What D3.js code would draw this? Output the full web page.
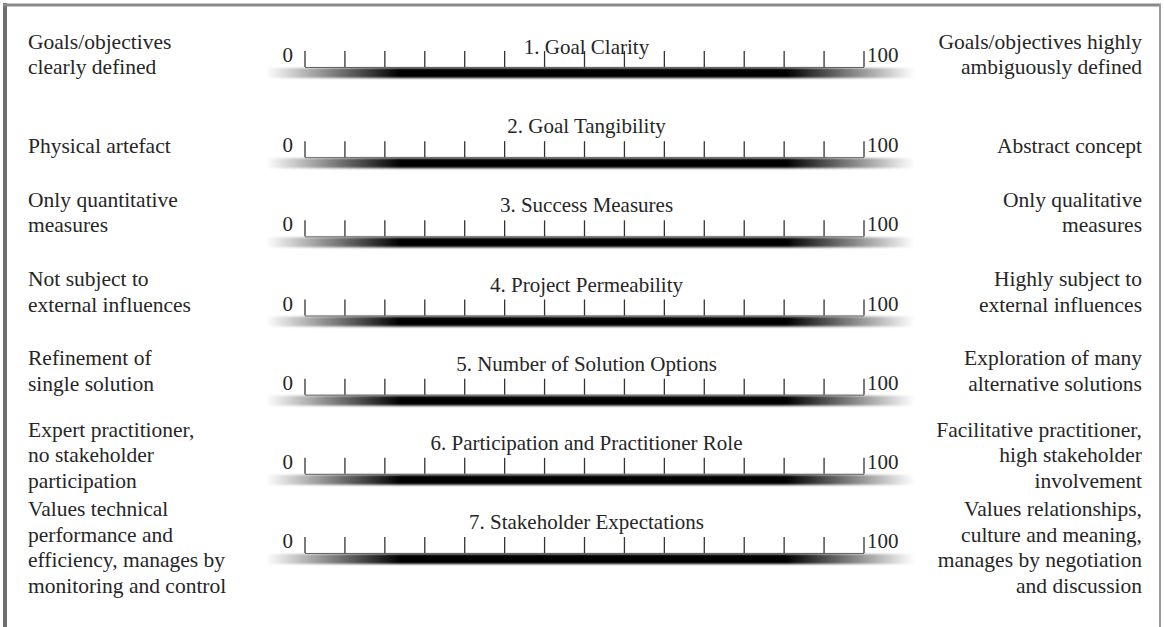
<!DOCTYPE html>
<html>
<head>
<meta charset="utf-8">
<script src="https://cdn.jsdelivr.net/npm/d3@7"></script>
<style>
  body { margin: 0; background: #fff; }
  svg { display: block; }
  svg text { font-family: 'Liberation Serif', 'Times New Roman', 'DejaVu Serif', serif; }
</style>
</head>
<body>
<svg id="chart"></svg>
<script>
const dimensions = [
  '1. Goal Clarity',
  '2. Goal Tangibility',
  '3. Success Measures',
  '4. Project Permeability',
  '5. Number of Solution Options',
  '6. Participation and Practitioner Role',
  '7. Stakeholder Expectations'
];
const leftLabels = [
  ['Goals/objectives', 'clearly defined'],
  ['Physical artefact'],
  ['Only quantitative', 'measures'],
  ['Not subject to', 'external influences'],
  ['Refinement of', 'single solution'],
  ['Expert practitioner,', 'no stakeholder', 'participation'],
  ['Values technical', 'performance and', 'efficiency, manages by', 'monitoring and control']
];
const rightLabels = [
  ['Goals/objectives highly', 'ambiguously defined'],
  ['Abstract concept'],
  ['Only qualitative', 'measures'],
  ['Highly subject to', 'external influences'],
  ['Exploration of many', 'alternative solutions'],
  ['Facilitative practitioner,', 'high stakeholder', 'involvement'],
  ['Values relationships,', 'culture and meaning,', 'manages by negotiation', 'and discussion']
];
// solid part of each bar and where its fade ends (scale units 0-100)
const coreStart = [17, 17, 17, 17, 17, 17, 17];
const coreEnd = [86, 86, 86, 86, 86, 86, 86];
const fadeStart = [-7, -7, -7, -7, -7, -7, -7];
const fadeEnd = [109, 109, 109, 109, 109, 109, 109];
const endLabels = ['0', '100'];
const tickCount = 15;

(function () {
  const width = 1164;
  const height = 627;
  const textColor = '#262626';
  const lineH = 25.5;

  const svg = d3.select('#chart').attr('width', width).attr('height', height);

  const x = d3.scaleLinear().domain([0, 100]).range([305, 864]);
  const rowY = d3.scalePoint().domain(d3.range(dimensions.length)).range([47, 522]);
  const barTop = (i) => rowY(i) + (i === 0 ? 20 : 31);

  const defs = svg.append('defs');
  const blur = defs.append('filter')
    .attr('id', 'soft')
    .attr('x', '-5%').attr('y', '-100%')
    .attr('width', '110%').attr('height', '300%');
  blur.append('feGaussianBlur').attr('stdDeviation', '0 1');

  // frame
  svg.append('line').attr('x1', 5).attr('x2', 5).attr('y1', 3).attr('y2', height)
    .attr('stroke', '#6e6e6e').attr('stroke-width', 4);
  svg.append('line').attr('x1', 3).attr('x2', 1161).attr('y1', 5).attr('y2', 5)
    .attr('stroke', '#8a8a8a').attr('stroke-width', 3);
  svg.append('line').attr('x1', 1160).attr('x2', 1160).attr('y1', 4).attr('y2', height)
    .attr('stroke', '#9a9a9a').attr('stroke-width', 2);

  const ticks = d3.range(tickCount).map((k) => (k * 100) / (tickCount - 1));

  dimensions.forEach((title, i) => {
    const g = svg.append('g').attr('class', 'row');
    const top = barTop(i);

    const grad = defs.append('linearGradient')
      .attr('id', `fade-${i}`)
      .attr('gradientUnits', 'userSpaceOnUse')
      .attr('x1', x(fadeStart[i])).attr('x2', x(fadeEnd[i]))
      .attr('y1', 0).attr('y2', 0);
    const span = fadeEnd[i] - fadeStart[i];
    [
      [0, 0],
      [(coreStart[i] - fadeStart[i]) / span, 1],
      [(coreEnd[i] - fadeStart[i]) / span, 1],
      [1, 0]
    ].forEach(([o, a]) => {
      grad.append('stop').attr('offset', o).attr('stop-color', '#000').attr('stop-opacity', a);
    });

    g.append('rect')
      .attr('x', x(fadeStart[i]))
      .attr('width', x(fadeEnd[i]) - x(fadeStart[i]))
      .attr('y', top + 1)
      .attr('height', 10)
      .attr('fill', `url(#fade-${i})`)
      .attr('filter', 'url(#soft)');

    g.append('line')
      .attr('x1', x(0)).attr('x2', x(100))
      .attr('y1', top + 0.5).attr('y2', top + 0.5)
      .attr('stroke', '#666').attr('stroke-width', 1);

    g.selectAll('line.tick')
      .data(ticks)
      .join('line')
      .attr('class', 'tick')
      .attr('x1', (d) => x(d)).attr('x2', (d) => x(d))
      .attr('y1', top - 16).attr('y2', top)
      .attr('stroke', '#333').attr('stroke-width', 1.3);

    g.append('text')
      .attr('x', x(0) - 12).attr('y', top - 5)
      .attr('text-anchor', 'end')
      .attr('font-size', 21).attr('fill', textColor)
      .text(endLabels[0]);
    g.append('text')
      .attr('x', x(100) + 3).attr('y', top - 5)
      .attr('text-anchor', 'start')
      .attr('font-size', 21).attr('fill', textColor)
      .text(endLabels[1]);

    g.append('text')
      .attr('x', (x(0) + x(100)) / 2 + 2).attr('y', rowY(i) + 7)
      .attr('text-anchor', 'middle')
      .attr('font-size', 21).attr('fill', textColor)
      .text(title);

    const sideBlock = (lines, xPos, anchor) => {
      const n = lines.length;
      const first = Math.max(rowY(i) + 20 - (n - 1) * lineH, rowY(i) - 13);
      g.append('g').selectAll('text')
        .data(lines)
        .join('text')
        .attr('x', xPos)
        .attr('y', (d, k) => first + 7 + k * lineH)
        .attr('text-anchor', anchor)
        .attr('font-size', 21.5).attr('fill', textColor)
        .text((d) => d);
    };
    sideBlock(leftLabels[i], 28, 'start');
    sideBlock(rightLabels[i], 1142, 'end');
  });
})();
</script>
</body>
</html>
